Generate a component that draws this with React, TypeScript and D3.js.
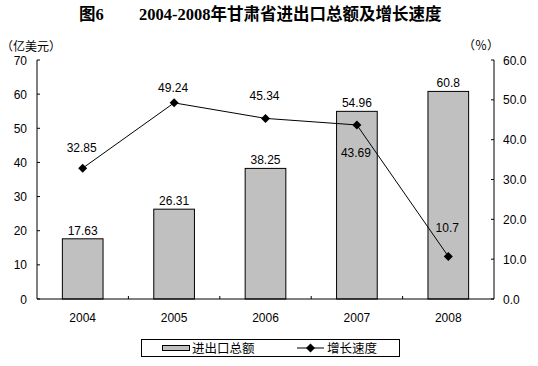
import React from "react";
import * as d3 from "d3";

const years = ["2004", "2005", "2006", "2007", "2008"];
const totals = [17.63, 26.31, 38.25, 54.96, 60.8];
const growth = [32.85, 49.24, 45.34, 43.69, 10.7];
const leftTicks = [0, 10, 20, 30, 40, 50, 60, 70];
const rightTicks = [0, 10, 20, 30, 40, 50, 60];
// vertical offset (baseline) of each growth label relative to its point
const growthLabelDy = [-16, -11, -18, 32, -24];

const W = 538;
const H = 366;
const left = 37;
const right = 494;
const top = 60;
const bottom = 299;

const sans = "Arial, 'Liberation Sans', sans-serif";
const cjk = "'Noto Sans CJK SC', sans-serif";

export default function App() {
  const x = d3.scaleBand<string>().domain(years).range([left, right]).paddingInner(0).paddingOuter(0);
  const yL = d3.scaleLinear().domain([0, 70]).range([bottom, top]);
  const yR = d3.scaleLinear().domain([0, 60]).range([bottom, top]);
  const bw = x.bandwidth() * 0.445;
  const cx = (d: string) => (x(d) as number) + x.bandwidth() / 2;
  const line = d3
    .line<number>()
    .x((_, i) => cx(years[i]))
    .y((d) => yR(d));
  const diamond = (px: number, py: number, r: number) =>
    `M${px},${py - r}L${px + r},${py}L${px},${py + r}L${px - r},${py}Z`;

  return (
    <svg
      width={W}
      height={H}
      style={{ position: "absolute", left: 0, top: 0, background: "#fff" }}
    >
      <rect x={0} y={0} width={W} height={H} fill="#fff" />
      {/* title */}
      <text
        x={79}
        y={20}
        fontSize={16.5}
        fontWeight="bold"
        fontFamily={`'Liberation Serif', ${cjk}`}
      >
        图6
      </text>
      <text
        x={139}
        y={20}
        fontSize={16.5}
        fontWeight="bold"
        fontFamily={`'Liberation Serif', ${cjk}`}
      >
        2004-2008年甘肃省进出口总额及增长速度
      </text>
      {/* unit labels */}
      <text x={1} y={51} fontSize={12} fontFamily={cjk}>
        （亿美元）
      </text>
      <text x={463} y={50} fontSize={12} fontFamily={cjk}>
        （％）
      </text>

      {/* bars */}
      {years.map((d, i) => (
        <rect
          key={d}
          x={cx(d) - bw / 2}
          y={yL(totals[i])}
          width={bw}
          height={bottom - yL(totals[i])}
          fill="#C0C0C0"
          stroke="#000"
          strokeWidth={1}
        />
      ))}
      {years.map((d, i) => (
        <text
          key={"bl" + d}
          x={cx(d)}
          y={yL(totals[i]) - 4}
          textAnchor="middle"
          fontSize={12}
          fontFamily={sans}
        >
          {totals[i]}
        </text>
      ))}

      {/* axes */}
      <line x1={left} x2={left} y1={top} y2={bottom} stroke="#000" />
      <line x1={right} x2={right} y1={top} y2={bottom} stroke="#000" />
      <line x1={left} x2={right} y1={bottom} y2={bottom} stroke="#000" />
      {leftTicks.map((t) => (
        <g key={"lt" + t}>
          <line x1={left} x2={left + 3} y1={yL(t)} y2={yL(t)} stroke="#000" />
          <text
            x={27}
            y={yL(t) + 4.5}
            textAnchor="end"
            fontSize={12}
            fontFamily={sans}
          >
            {t}
          </text>
        </g>
      ))}
      {rightTicks.map((t) => (
        <g key={"rt" + t}>
          <line x1={right - 3} x2={right} y1={yR(t)} y2={yR(t)} stroke="#000" />
          <text
            x={503}
            y={yR(t) + 4.5}
            textAnchor="start"
            fontSize={12}
            fontFamily={sans}
          >
            {t.toFixed(1)}
          </text>
        </g>
      ))}
      {years.slice(1).map((d) => (
        <line
          key={"xt" + d}
          x1={x(d) as number}
          x2={x(d) as number}
          y1={bottom - 3}
          y2={bottom}
          stroke="#000"
        />
      ))}
      {years.map((d) => (
        <text
          key={"xl" + d}
          x={cx(d)}
          y={322}
          textAnchor="middle"
          fontSize={12}
          fontFamily={sans}
        >
          {d}
        </text>
      ))}

      {/* growth line */}
      <path d={line(growth) || ""} fill="none" stroke="#000" strokeWidth={1} />
      {growth.map((v, i) => (
        <path key={"m" + i} d={diamond(cx(years[i]), yR(v), 4.5)} fill="#000" />
      ))}
      {growth.map((v, i) => (
        <text
          key={"gl" + i}
          x={cx(years[i]) - 1}
          y={yR(v) + growthLabelDy[i]}
          textAnchor="middle"
          fontSize={12}
          fontFamily={sans}
        >
          {v}
        </text>
      ))}

      {/* legend */}
      <rect x={141.5} y={339.5} width={258} height={17} fill="#fff" stroke="#000" />
      <rect x={162.5} y={345.5} width={27} height={5} fill="#C0C0C0" stroke="#000" />
      <text x={192} y={352.5} fontSize={12.5} fontFamily={cjk}>
        进出口总额
      </text>
      <line x1={297} x2={324} y1={348} y2={348} stroke="#000" />
      <path d={diamond(310.5, 348, 4.5)} fill="#000" />
      <text x={327} y={352.5} fontSize={12.5} fontFamily={cjk}>
        增长速度
      </text>
    </svg>
  );
}
